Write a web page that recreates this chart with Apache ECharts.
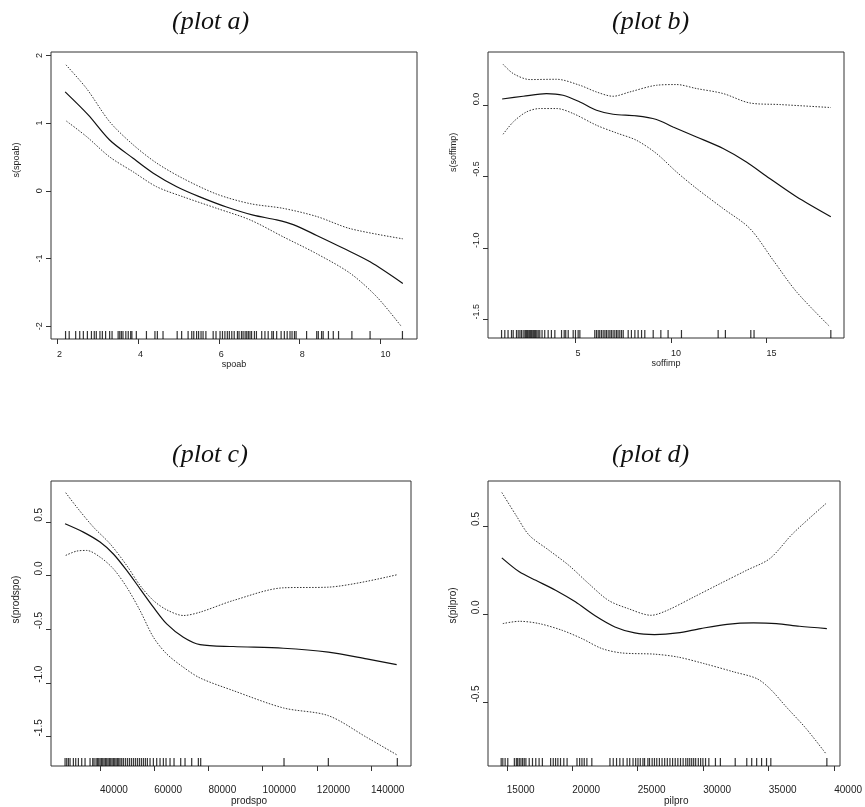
<!DOCTYPE html>
<html>
<head>
<meta charset="utf-8">
<script src="https://cdn.jsdelivr.net/npm/echarts@6/dist/echarts.min.js"></script>
<style>
html,body{margin:0;padding:0;background:#fff;}
#chart{width:865px;height:807px;}
</style>
</head>
<body>
<div id="chart"></div>
<script>
// ---------- plot a : spoab ----------
const spoabFit = [[2.20,1.46],[2.77,1.12],[3.30,0.75],[3.88,0.48],[4.38,0.26],[4.96,0.06],[5.53,-0.09],[6.19,-0.24],[6.85,-0.36],[7.43,-0.43],[7.84,-0.50],[8.42,-0.66],[9.08,-0.85],[9.74,-1.05],[10.55,-1.37]];
const spoabUpper = [[2.22,1.86],[2.73,1.51],[3.30,1.02],[3.88,0.68],[4.46,0.41],[5.12,0.18],[5.95,-0.05],[6.77,-0.19],[7.59,-0.26],[8.42,-0.38],[9.25,-0.56],[10.55,-0.71]];
const spoabLower = [[2.23,1.03],[2.73,0.80],[3.30,0.50],[3.88,0.28],[4.46,0.06],[5.12,-0.09],[5.95,-0.26],[6.77,-0.43],[7.59,-0.68],[8.42,-0.93],[9.25,-1.22],[9.91,-1.57],[10.52,-2.01]];
const spoabRug = [2.21,2.30,2.46,2.56,2.65,2.75,2.85,2.92,2.97,3.06,3.12,3.20,3.30,3.36,3.51,3.55,3.59,3.63,3.70,3.76,3.82,3.85,3.96,4.21,4.42,4.48,4.62,4.97,5.08,5.24,5.33,5.38,5.45,5.50,5.56,5.61,5.68,5.86,5.93,6.03,6.09,6.15,6.21,6.26,6.32,6.38,6.46,6.50,6.56,6.60,6.65,6.69,6.73,6.77,6.81,6.88,6.93,7.06,7.14,7.22,7.31,7.35,7.43,7.54,7.62,7.69,7.76,7.81,7.87,7.91,8.17,8.42,8.46,8.54,8.58,8.71,8.83,8.96,9.29,9.74,10.54];
const spoabXTicks = [2,4,6,8,10];
const spoabYTicks = [-2,-1,0,1,2];

// ---------- plot b : soffimp ----------
const soffimpFit = [[1.16,0.044],[2.26,0.063],[3.48,0.082],[4.35,0.070],[5.23,0.023],[6.10,-0.035],[6.97,-0.063],[8.19,-0.075],[9.24,-0.100],[10.11,-0.152],[11.34,-0.222],[12.73,-0.303],[13.95,-0.397],[15.17,-0.513],[16.57,-0.641],[18.37,-0.781]];
const soffimpUpper = [[1.21,0.287],[1.74,0.222],[2.61,0.180],[4.01,0.182],[5.23,0.140],[6.10,0.093],[6.97,0.063],[7.84,0.093],[9.24,0.140],[10.29,0.145],[11.34,0.117],[12.73,0.082],[14.13,0.016],[15.70,0.005],[18.37,-0.016]];
const soffimpLower = [[1.21,-0.203],[1.74,-0.117],[2.43,-0.047],[3.13,-0.023],[4.01,-0.023],[4.88,-0.058],[6.10,-0.140],[7.15,-0.194],[8.19,-0.245],[9.24,-0.338],[10.29,-0.467],[11.34,-0.583],[12.73,-0.723],[14.13,-0.863],[15.35,-1.085],[16.57,-1.306],[18.32,-1.551]];
const soffimpRug = [1.13,1.30,1.47,1.65,1.74,1.91,2.00,2.09,2.17,2.26,2.35,2.40,2.45,2.50,2.56,2.61,2.66,2.71,2.77,2.82,2.87,2.92,2.98,3.05,3.13,3.25,3.39,3.57,3.74,3.92,4.27,4.41,4.49,4.62,4.88,5.00,5.14,5.23,6.01,6.10,6.19,6.27,6.36,6.45,6.54,6.62,6.71,6.80,6.88,6.97,7.06,7.15,7.23,7.32,7.41,7.50,7.76,7.93,8.11,8.28,8.46,8.63,9.07,9.47,9.85,10.55,12.47,12.85,14.18,14.35,18.37];
const soffimpXTicks = [5,10,15];
const soffimpYTicks = [-1.5,-1.0,-0.5,0.0];

// ---------- plot c : prodspo ----------
const prodspoFit = [[27085,0.482],[33838,0.404],[40000,0.311],[44920,0.200],[49840,0.047],[54760,-0.124],[59680,-0.295],[64600,-0.451],[70750,-0.575],[76900,-0.644],[89200,-0.662],[107650,-0.678],[124255,-0.715],[138400,-0.777],[149470,-0.830]];
const prodspoUpper = [[27330,0.771],[31390,0.637],[37540,0.451],[43690,0.295],[49840,0.093],[54760,-0.093],[59680,-0.233],[64600,-0.320],[70750,-0.373],[76900,-0.342],[89200,-0.233],[107650,-0.115],[124255,-0.109],[149470,0.006]];
const prodspoLower = [[27330,0.187],[31390,0.227],[35080,0.233],[40000,0.171],[44920,0.062],[49840,-0.109],[54760,-0.327],[59680,-0.575],[64600,-0.731],[70750,-0.855],[76900,-0.955],[89200,-1.073],[107650,-1.234],[124255,-1.306],[138400,-1.508],[149470,-1.670]];
const prodspoRug = [27085,27700,28315,28930,30160,31021,32005,33235,34465,36310,37294,37786,38524,39016,39508,40000,40492,40984,41476,41968,42460,42952,43444,43936,44428,44920,45412,45904,46396,46888,47380,47995,48610,49348,50086,50824,51562,52300,53038,53776,54514,55252,55990,56728,57466,58450,59680,60910,62140,63370,64354,65830,67306,69766,71365,73825,76285,77146,107896,124255,149716];
const prodspoXTicks = [40000,60000,80000,100000,120000,140000];
const prodspoYTicks = [-1.5,-1.0,-0.5,0.0,0.5];

// ---------- plot d : pilpro ----------
const pilproFit = [[14622,0.319],[15956,0.240],[17215,0.192],[18725,0.136],[20235,0.070],[21746,-0.009],[23256,-0.072],[24766,-0.106],[26276,-0.115],[28038,-0.106],[29800,-0.081],[31813,-0.057],[33827,-0.049],[35589,-0.053],[37350,-0.068],[39440,-0.081]];
const pilproUpper = [[14622,0.689],[15705,0.560],[16712,0.447],[18222,0.362],[19732,0.277],[21242,0.174],[22752,0.079],[24262,0.032],[26024,-0.006],[27283,0.023],[29296,0.098],[31310,0.174],[33324,0.249],[35086,0.315],[36848,0.457],[39365,0.626]];
const pilproLower = [[14698,-0.053],[15956,-0.040],[17467,-0.053],[19229,-0.091],[20739,-0.138],[22249,-0.194],[23759,-0.219],[26276,-0.226],[28038,-0.242],[30051,-0.279],[32316,-0.326],[34079,-0.364],[35086,-0.421],[36344,-0.525],[37854,-0.647],[39365,-0.789]];
const pilproRug = [14572,14698,14874,15076,15579,15730,15831,15956,16082,16208,16334,16460,16712,16963,17215,17467,17718,18348,18549,18725,18901,19103,19354,19606,20361,20563,20739,20915,21116,21494,22878,23130,23382,23633,23885,24187,24388,24640,24841,25018,25194,25395,25521,25773,25898,26100,26276,26452,26653,26855,27056,27258,27459,27660,27862,28063,28265,28466,28667,28818,28969,29120,29271,29422,29624,29800,29976,30177,30429,30932,31310,32443,33324,33701,34079,34456,34834,35161,39440];
const pilproXTicks = [15000,20000,25000,30000,35000,40000];
const pilproYTicks = [-0.5,0.0,0.5];

const titles = ['(plot a)','(plot b)','(plot c)','(plot d)'];
const xNames = ['spoab','soffimp','prodspo','pilpro'];
const yNames = ['s(spoab)','s(soffimp)','s(prodspo)','s(pilpro)'];

// ---------- layout / styles ----------
const panels = [
  {fit:spoabFit, up:spoabUpper, lo:spoabLower, rug:spoabRug, xt:spoabXTicks, yt:spoabYTicks,
   xr:[1.85,10.9], yr:[-2.19,2.05], grid:{left:51,top:52,width:366,height:287},
   fs:9, xMargin:11, yAlign:'center', yFmt:v=>String(v), xNameGap:19, xNameAlign:'center', yNamePad:[0,0,0,18], yNameAlign:'left',
   title:{left:167,top:4}},
  {fit:soffimpFit, up:soffimpUpper, lo:soffimpLower, rug:soffimpRug, xt:soffimpXTicks, yt:soffimpYTicks,
   xr:[0.42,19.06], yr:[-1.63,0.373], grid:{left:488,top:52,width:356,height:286},
   fs:9, xMargin:11, yAlign:'left', yFmt:v=>v.toFixed(1), xNameGap:19, xNameAlign:'center', yNamePad:[0,0,0,23], yNameAlign:'left',
   title:{left:607,top:4}},
  {fit:prodspoFit, up:prodspoUpper, lo:prodspoLower, rug:prodspoRug, xt:prodspoXTicks, yt:prodspoYTicks,
   xr:[21900,154760], yr:[-1.775,0.88], grid:{left:51,top:481,width:360,height:285},
   fs:10, xMargin:19, yAlign:'left', yFmt:v=>v.toFixed(1), xNameGap:29, xNameAlign:'left', yNamePad:0, yNameAlign:'left',
   title:{left:167,top:437}},
  {fit:pilproFit, up:pilproUpper, lo:pilproLower, rug:pilproRug, xt:pilproXTicks, yt:pilproYTicks,
   xr:[13566,40444], yr:[-0.859,0.754], grid:{left:488,top:481,width:356,height:285},
   fs:10, xMargin:19, yAlign:'left', yFmt:v=>v.toFixed(1), xNameGap:29, xNameAlign:'left', yNamePad:0, yNameAlign:'left',
   title:{left:607,top:437}}
];

const FONT = 'Liberation Sans, Arial, Helvetica, sans-serif';
const INK = '#222';

const option = {
  animation:false,
  backgroundColor:'#fff',
  title: panels.map((p,i)=>({
    text: titles[i], left:p.title.left, top:p.title.top,
    textStyle:{fontFamily:'Liberation Serif, Times New Roman, serif', fontStyle:'italic', fontWeight:'normal', fontSize:26, color:'#111'}
  })),
  grid: panels.map(p=>Object.assign({show:true, borderColor:'#333', borderWidth:1, backgroundColor:'transparent'}, p.grid)),
  xAxis: panels.map((p,i)=>({
    type:'value', gridIndex:i, min:p.xr[0], max:p.xr[1],
    axisLine:{show:false, onZero:false},
    axisTick:{show:true, inside:false, length:5, customValues:p.xt, lineStyle:{color:'#333', width:1}},
    axisLabel:{show:true, customValues:p.xt, align:'left', margin:p.xMargin, fontSize:p.fs, color:INK, fontFamily:FONT,
      formatter:v=>String(v)},
    splitLine:{show:false},
    name:xNames[i], nameLocation:'middle', nameGap:p.xNameGap,
    nameTextStyle:{fontSize:p.fs, color:INK, fontFamily:FONT, align:p.xNameAlign}
  })),
  yAxis: panels.map((p,i)=>({
    type:'value', gridIndex:i, min:p.yr[0], max:p.yr[1],
    axisLine:{show:false, onZero:false},
    axisTick:{show:true, inside:false, length:5, customValues:p.yt, lineStyle:{color:'#333', width:1}},
    axisLabel:{show:true, customValues:p.yt, rotate:90, align:p.yAlign, margin:7, fontSize:p.fs, color:INK, fontFamily:FONT,
      formatter:p.yFmt},
    splitLine:{show:false},
    name:yNames[i], nameLocation:'middle', nameGap:30,
    nameTextStyle:{fontSize:p.fs, color:INK, fontFamily:FONT, align:p.yNameAlign, padding:p.yNamePad}
  })),
  series: []
};

panels.forEach((p,i)=>{
  option.series.push({
    type:'line', xAxisIndex:i, yAxisIndex:i, data:p.fit, showSymbol:false, smooth:0.3,
    lineStyle:{color:'#111', width:1.2}, silent:true
  });
  [p.up, p.lo].forEach(d=>{
    option.series.push({
      type:'line', xAxisIndex:i, yAxisIndex:i, data:d, showSymbol:false, smooth:0.3,
      lineStyle:{color:'#333', width:1, type:[1.5,1.5]}, silent:true
    });
  });
  option.series.push({
    type:'scatter', xAxisIndex:i, yAxisIndex:i, clip:false, silent:true,
    data:p.rug.map(v=>[v, p.yr[0]]),
    symbol:'rect', symbolSize:[1.2,8], symbolOffset:[0,-4],
    itemStyle:{color:'#000'}
  });
});

const chart = echarts.init(document.getElementById('chart'), null, {renderer:'canvas'});
chart.setOption(option);
</script>
</body>
</html>
